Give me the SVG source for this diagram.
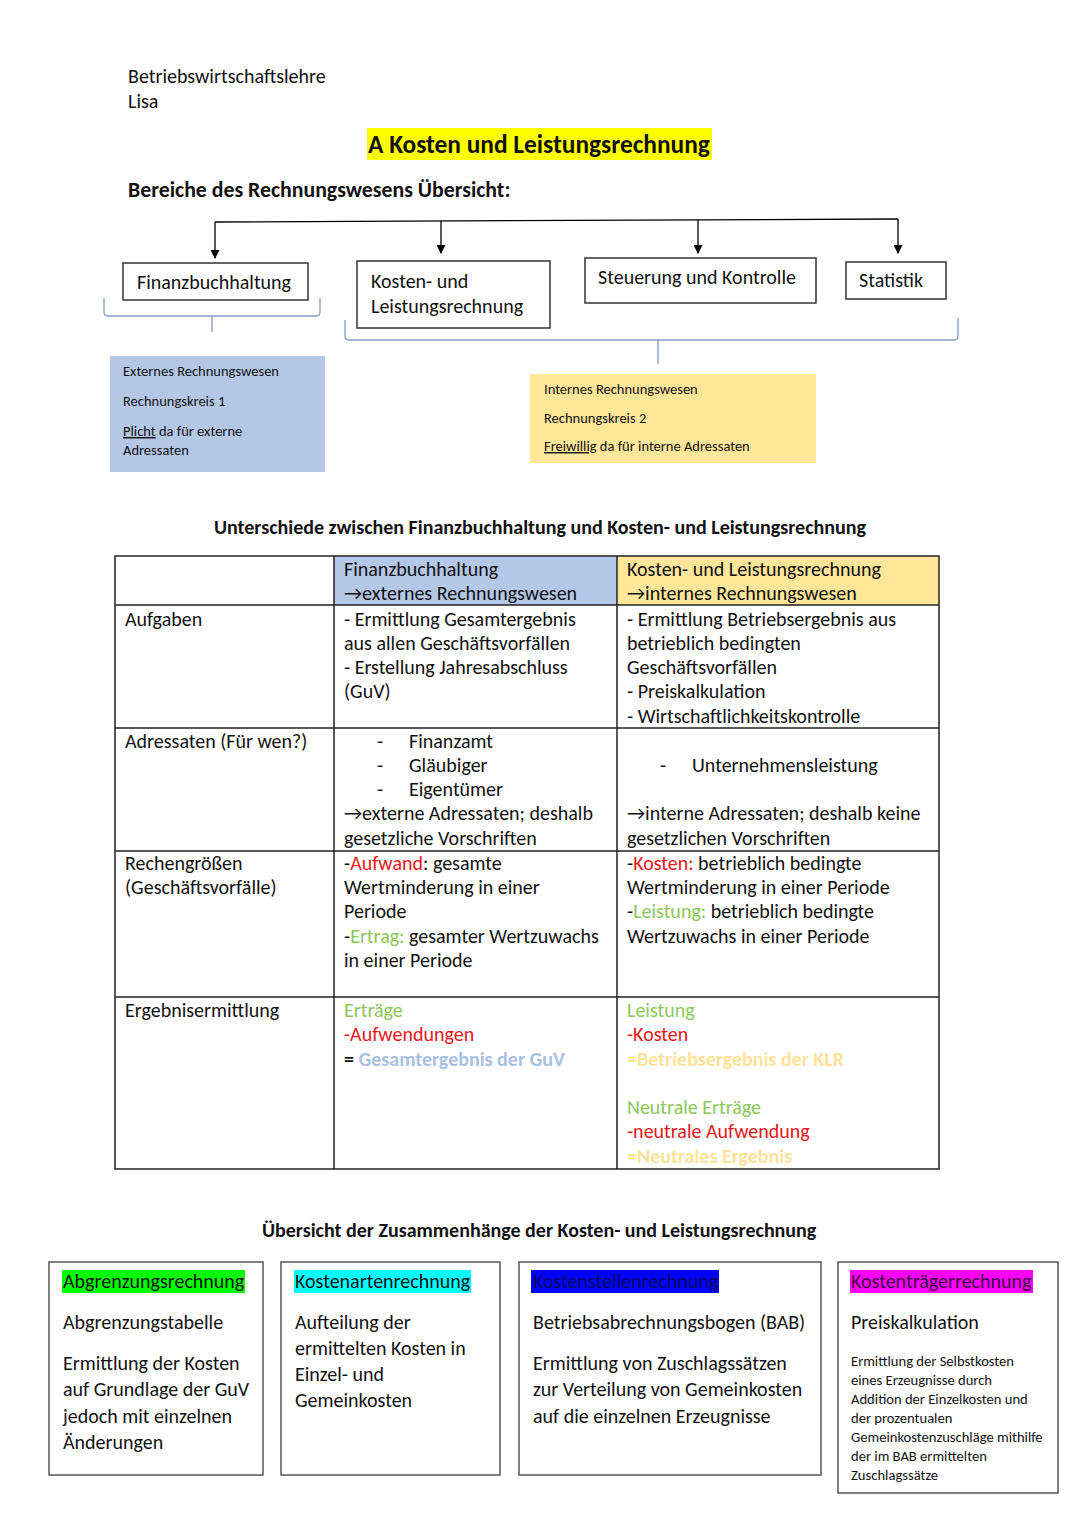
<svg xmlns="http://www.w3.org/2000/svg" width="1080" height="1527" viewBox="0 0 1080 1527">
<defs>
<marker id="ah" viewBox="0 0 10 10" refX="9" refY="5" markerWidth="10" markerHeight="9" markerUnits="userSpaceOnUse" orient="auto">
<path d="M0,0 L10,5 L0,10 z" fill="#000"/>
</marker>
<marker id="ah2" viewBox="0 0 10 10" refX="9" refY="5" markerWidth="11" markerHeight="11" markerUnits="userSpaceOnUse" orient="auto">
<path d="M0,0 L10,5 L0,10 z" fill="#000"/>
</marker>
</defs>
<style>
text{font-family:Carlito,"Open Sans",sans-serif;fill:#111}
.h{font-size:20px}
.t{font-size:20px}
.b{font-weight:bold}
.s{font-size:14.5px}
.xs{font-size:14.6px}
.box{fill:#fff;stroke:#333;stroke-width:1.5}
.cbox{fill:#fff;stroke:#555;stroke-width:1.5}
.grid{stroke:#222;stroke-width:1.5;fill:none}
.brace{stroke:#7f9cc4;stroke-width:1.3;fill:none}
.conn{stroke:#000;stroke-width:1.3;fill:none}
.red{fill:#e8161b}
.grn{fill:#8cc75a}
.lblue{fill:#a9bfe2}
.lyel{fill:#ffe29a}
</style>
<rect width="1080" height="1527" fill="#fff"/>

<g id="header">
<text x="128" y="83" class="h">Betriebswirtschaftslehre</text>
<text x="128" y="108" class="h">Lisa</text>
<rect x="367" y="128" width="345" height="32" fill="#ffff00"/>
<text x="368" y="153" class="b" style="font-size:25.4px">A Kosten und Leistungsrechnung</text>
<text x="128" y="197" class="b" style="font-size:21.8px">Bereiche des Rechnungswesens Übersicht:</text>
</g>

<g id="connectors">
<path class="conn" d="M215,222 L898,219"/>
<path class="conn" d="M215,222 V258" marker-end="url(#ah)"/>
<path class="conn" d="M441,221 V253" marker-end="url(#ah)"/>
<path class="conn" d="M698,220 V253" marker-end="url(#ah)"/>
<path class="conn" d="M898,219 V253" marker-end="url(#ah)"/>
<path class="brace" d="M104,298 V312 Q104,316 108,316 H316 Q320,316 320,312 V298 M212,316 V332"/>
<path class="brace" d="M345,320 V336 Q345,340 349,340 H954 Q958,340 958,336 V318 M658,340 V364"/>
<path class="conn" d="M135,1318 V1355" marker-end="url(#ah2)"/>
<path class="conn" d="M362,1292 V1312" marker-end="url(#ah2)"/>
<path class="conn" d="M646,1333 V1355" marker-end="url(#ah2)"/>
<path class="conn" d="M922,1318 V1349" marker-end="url(#ah2)"/>
</g>

<g id="finanzbuchhaltung">
<rect x="123" y="263" width="185" height="37" class="box"/>
<text x="214" y="289" class="t" text-anchor="middle">Finanzbuchhaltung</text>
</g>
<g id="klr">
<rect x="357" y="261" width="193" height="67" class="box"/>
<text x="371" y="288" class="t">Kosten- und</text>
<text x="371" y="313" class="t">Leistungsrechnung</text>
</g>
<g id="steuerung">
<rect x="585" y="258" width="231" height="45" class="box"/>
<text x="598" y="284" class="t">Steuerung und Kontrolle</text>
</g>
<g id="statistik">
<rect x="846" y="262" width="100" height="37" class="box"/>
<text x="859" y="287" class="t">Statistik</text>
</g>

<g id="extern">
<rect x="110" y="356" width="215" height="116" fill="#b4c7e7"/>
<text x="123" y="376" class="s">Externes Rechnungswesen</text>
<text x="123" y="406" class="s">Rechnungskreis 1</text>
<text x="123" y="436" class="s"><tspan text-decoration="underline">Plicht</tspan> da für externe</text>
<text x="123" y="455" class="s">Adressaten</text>
</g>
<g id="intern">
<rect x="530" y="374" width="286" height="89" fill="#ffe699"/>
<text x="544" y="394" class="s">Internes Rechnungswesen</text>
<text x="544" y="423" class="s">Rechnungskreis 2</text>
<text x="544" y="451" class="s"><tspan text-decoration="underline">Freiwillig</tspan> da für interne Adressaten</text>
</g>

<g id="table">
<text x="214" y="534" class="b" style="font-size:20px">Unterschiede zwischen Finanzbuchhaltung und Kosten- und Leistungsrechnung</text>
<rect x="334" y="556" width="283" height="49" fill="#b4c7e7"/>
<rect x="617" y="556" width="322" height="49" fill="#ffe699"/>
<rect x="115" y="556" width="824" height="613" class="grid"/>
<path class="grid" d="M334,556 V1169 M617,556 V1169 M115,605 H939 M115,728 H939 M115,851 H939 M115,997 H939"/>

<text x="344" y="576" class="t">Finanzbuchhaltung</text>
<text x="344" y="600" class="t">→externes Rechnungswesen</text>
<text x="627" y="576" class="t">Kosten- und Leistungsrechnung</text>
<text x="627" y="600" class="t">→internes Rechnungswesen</text>

<text x="125" y="626" class="t">Aufgaben</text>
<text x="344" y="626" class="t">- Ermittlung Gesamtergebnis</text>
<text x="344" y="650" class="t">aus allen Geschäftsvorfällen</text>
<text x="344" y="674" class="t">- Erstellung Jahresabschluss</text>
<text x="344" y="698" class="t">(GuV)</text>
<text x="627" y="626" class="t">- Ermittlung Betriebsergebnis aus</text>
<text x="627" y="650" class="t">betrieblich bedingten</text>
<text x="627" y="674" class="t">Geschäftsvorfällen</text>
<text x="627" y="698" class="t">- Preiskalkulation</text>
<text x="627" y="723" class="t">- Wirtschaftlichkeitskontrolle</text>

<text x="125" y="748" class="t">Adressaten (Für wen?)</text>
<text x="377" y="748" class="t">-</text><text x="409" y="748" class="t">Finanzamt</text>
<text x="377" y="772" class="t">-</text><text x="409" y="772" class="t">Gläubiger</text>
<text x="377" y="796" class="t">-</text><text x="409" y="796" class="t">Eigentümer</text>
<text x="344" y="820" class="t">→externe Adressaten; deshalb</text>
<text x="344" y="845" class="t">gesetzliche Vorschriften</text>
<text x="660" y="772" class="t">-</text><text x="692" y="772" class="t">Unternehmensleistung</text>
<text x="627" y="820" class="t">→interne Adressaten; deshalb keine</text>
<text x="627" y="845" class="t">gesetzlichen Vorschriften</text>

<text x="125" y="870" class="t">Rechengrößen</text>
<text x="125" y="894" class="t">(Geschäftsvorfälle)</text>
<text x="344" y="870" class="t">-<tspan class="red">Aufwand</tspan>: gesamte</text>
<text x="344" y="894" class="t">Wertminderung in einer</text>
<text x="344" y="918" class="t">Periode</text>
<text x="344" y="943" class="t">-<tspan class="grn">Ertrag:</tspan> gesamter Wertzuwachs</text>
<text x="344" y="967" class="t">in einer Periode</text>
<text x="627" y="870" class="t">-<tspan class="red">Kosten:</tspan> betrieblich bedingte</text>
<text x="627" y="894" class="t">Wertminderung in einer Periode</text>
<text x="627" y="918" class="t">-<tspan class="grn">Leistung:</tspan> betrieblich bedingte</text>
<text x="627" y="943" class="t">Wertzuwachs in einer Periode</text>

<text x="125" y="1017" class="t">Ergebnisermittlung</text>
<text x="344" y="1017" class="t grn">Erträge</text>
<text x="344" y="1041" class="t red">-Aufwendungen</text>
<text x="344" y="1066" class="t b">= <tspan class="lblue">Gesamtergebnis der GuV</tspan></text>
<text x="627" y="1017" class="t grn">Leistung</text>
<text x="627" y="1041" class="t red">-Kosten</text>
<text x="627" y="1066" class="t b lyel">=Betriebsergebnis der KLR</text>
<text x="627" y="1114" class="t grn">Neutrale Erträge</text>
<text x="627" y="1138" class="t red">-neutrale Aufwendung</text>
<text x="627" y="1163" class="t b lyel">=Neutrales Ergebnis</text>
</g>

<text x="262" y="1237" class="b" style="font-size:20px">Übersicht der Zusammenhänge der Kosten- und Leistungsrechnung</text>

<g id="abgrenzung">
<rect x="49" y="1262" width="214" height="213" class="cbox"/>
<rect x="62" y="1270" width="183" height="23" fill="#00ff00"/>
<text x="63" y="1288" class="t">Abgrenzungsrechnung</text>
<text x="63" y="1329" class="t">Abgrenzungstabelle</text>
<text x="63" y="1370" class="t">Ermittlung der Kosten</text>
<text x="63" y="1396" class="t">auf Grundlage der GuV</text>
<text x="63" y="1423" class="t">jedoch mit einzelnen</text>
<text x="63" y="1449" class="t">Änderungen</text>
</g>
<g id="kostenarten">
<rect x="281" y="1262" width="219" height="213" class="cbox"/>
<rect x="294" y="1270" width="177" height="23" fill="#00ffff"/>
<text x="295" y="1288" class="t">Kostenartenrechnung</text>
<text x="295" y="1329" class="t">Aufteilung der</text>
<text x="295" y="1355" class="t">ermittelten Kosten in</text>
<text x="295" y="1381" class="t">Einzel- und</text>
<text x="295" y="1407" class="t">Gemeinkosten</text>
</g>
<g id="kostenstellen">
<rect x="519" y="1262" width="302" height="213" class="cbox"/>
<rect x="531" y="1270" width="188" height="23" fill="#0000ff"/>
<text x="533" y="1288" class="t" style="fill:#0a0a60">Kostenstellenrechnung</text>
<text x="533" y="1329" class="t">Betriebsabrechnungsbogen (BAB)</text>
<text x="533" y="1370" class="t">Ermittlung von Zuschlagssätzen</text>
<text x="533" y="1396" class="t">zur Verteilung von Gemeinkosten</text>
<text x="533" y="1423" class="t">auf die einzelnen Erzeugnisse</text>
</g>
<g id="kostentraeger">
<rect x="838" y="1262" width="220" height="231" class="cbox"/>
<rect x="850" y="1270" width="183" height="23" fill="#ff00ff"/>
<text x="851" y="1288" class="t" style="fill:#3a003a">Kostenträgerrechnung</text>
<text x="851" y="1329" class="t">Preiskalkulation</text>
<text x="851" y="1366" class="xs">Ermittlung der Selbstkosten</text>
<text x="851" y="1385" class="xs">eines Erzeugnisse durch</text>
<text x="851" y="1404" class="xs">Addition der Einzelkosten und</text>
<text x="851" y="1423" class="xs">der prozentualen</text>
<text x="851" y="1442" class="xs">Gemeinkostenzuschläge mithilfe</text>
<text x="851" y="1461" class="xs">der im BAB ermittelten</text>
<text x="851" y="1480" class="xs">Zuschlagssätze</text>
</g>
</svg>
